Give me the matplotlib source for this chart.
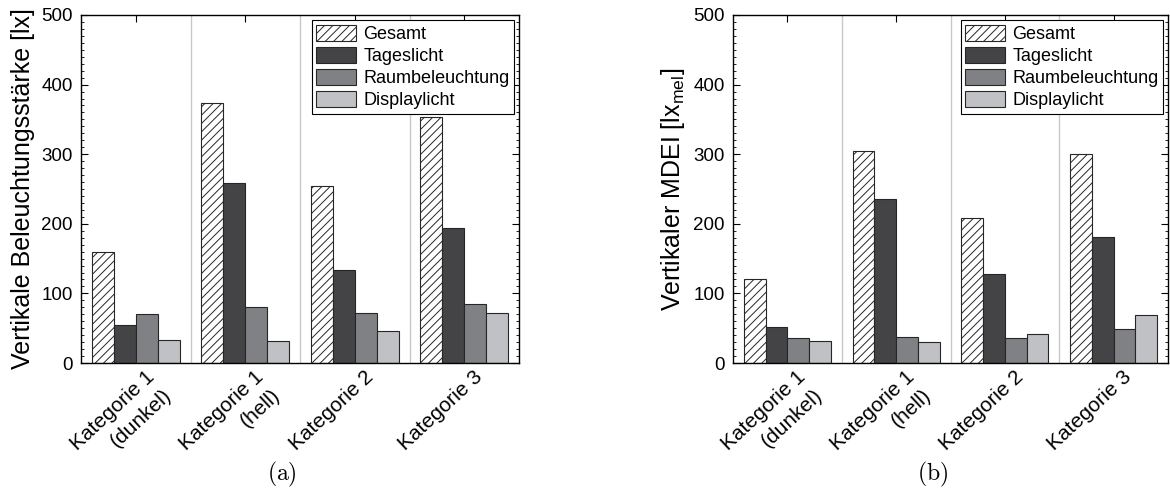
import matplotlib
matplotlib.use("Agg")
import matplotlib.pyplot as plt
import matplotlib.transforms as mtransforms
from matplotlib.ticker import MultipleLocator
import numpy as np

categories = ["Kategorie 1\n(dunkel)", "Kategorie 1\n(hell)", "Kategorie 2", "Kategorie 3"]
series = ["Gesamt", "Tageslicht", "Raumbeleuchtung", "Displaylicht"]

# (a) vertikale Beleuchtungsstaerke in lx
lux_gesamt = [160, 374, 254, 354]
lux_tageslicht = [54, 259, 134, 194]
lux_raum = [70, 81, 72, 85]
lux_display = [33, 32, 46, 72]

# (b) vertikaler MDEI in lx_mel
mdei_gesamt = [121, 304, 208, 301]
mdei_tageslicht = [52, 235, 128, 181]
mdei_raum = [36, 37, 36, 49]
mdei_display = [31, 30, 42, 69]

facecolors = ["white", "#444446", "#808184", "#c0c1c4"]
hatches = ["////", "", "", ""]

plt.rcParams["font.family"] = ["Liberation Sans", "DejaVu Sans"]
plt.rcParams["mathtext.default"] = "regular"
plt.rcParams["hatch.linewidth"] = 0.7
plt.rcParams["axes.linewidth"] = 1.0

W, H = 1170, 493
fig = plt.figure(figsize=(W / 100, H / 100), dpi=100)


def draw_panel(left_px, width_px, values, ylabel, tag):
    ax = fig.add_axes([left_px / W, 130 / H, width_px / W, 348 / H])
    x = np.arange(len(categories))
    bw = 0.2
    for i, (vals, name) in enumerate(zip(values, series)):
        ax.bar(x + (i - 1.5) * bw, vals, bw, label=name, color=facecolors[i],
               hatch=hatches[i], edgecolor="#262626", linewidth=0.8, zorder=2)
    for sep in x[:-1] + 0.5:
        ax.axvline(sep, color="#c8c8c8", linewidth=1.0, zorder=1)

    ax.set_xlim(-0.5, len(categories) - 0.5)
    ax.set_ylim(0, 500)
    ax.yaxis.set_major_locator(MultipleLocator(100))
    ax.yaxis.set_minor_locator(MultipleLocator(10))
    ax.set_xticks(x)
    ax.tick_params(axis="x", which="both", direction="in", top=True, length=5,
                   width=0.8, pad=0)
    ax.tick_params(axis="y", which="major", direction="in", right=True, length=5,
                   width=0.8, labelsize=13.5, pad=6)
    ax.tick_params(axis="y", which="minor", direction="in", right=True, length=2.5,
                   width=0.6)
    ax.set_xticklabels(categories, rotation=43, ha="right", va="top",
                       rotation_mode="anchor", multialignment="right",
                       linespacing=1.4, fontsize=15)
    shift = mtransforms.ScaledTranslation(0.09, -0.04, fig.dpi_scale_trans)
    for lab in ax.get_xticklabels():
        lab.set_transform(lab.get_transform() + shift)

    ax.set_ylabel(ylabel, fontsize=18)
    ax.yaxis.set_label_coords(-46 / width_px, 0.5)

    leg = ax.legend(loc="upper right", bbox_to_anchor=(1 - 5 / width_px, 1 - 5 / 348),
                    borderaxespad=0, fancybox=False, edgecolor="black", framealpha=1,
                    fontsize=13, handlelength=2.2, handleheight=1.0, labelspacing=0.22,
                    handletextpad=0.4, borderpad=0.25)
    leg.get_frame().set_linewidth(0.8)

    fig.text((left_px + 0.459 * width_px) / W, 1 - 474 / H, r"$\mathrm{(%s)}$" % tag,
             math_fontfamily="cm", fontsize=17, ha="center", va="center")
    return ax


draw_panel(81, 438, [lux_gesamt, lux_tageslicht, lux_raum, lux_display],
           "Vertikale Beleuchtungsstärke [lx]", "a")
draw_panel(733, 435, [mdei_gesamt, mdei_tageslicht, mdei_raum, mdei_display],
           r"Vertikaler MDEI [lx$_{mel}$]", "b")

fig.savefig("out.png", dpi=100)
plt.close(fig)
